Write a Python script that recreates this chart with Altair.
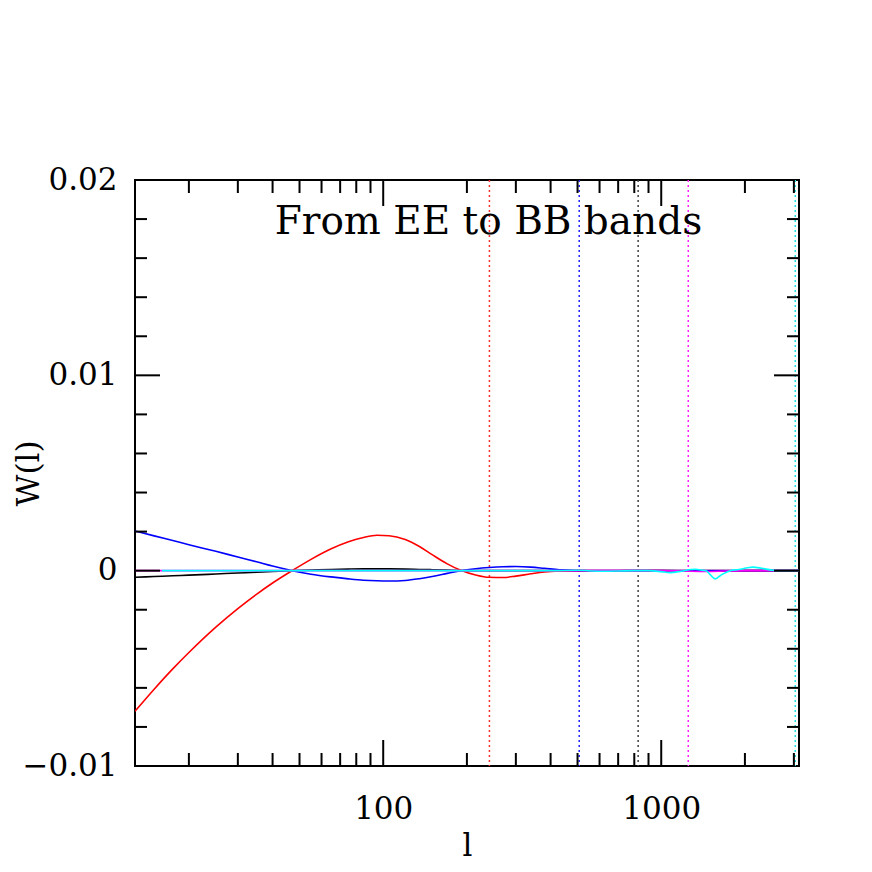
import altair as alt
import pandas as pd

# ---- data ----
l_grid = [12.8, 15, 17.5, 20, 25, 30, 35, 40, 47, 55, 65, 75, 85, 95, 105, 120,
          135, 150, 170, 190, 215, 240, 270, 300, 340, 380, 430, 500, 600, 800,
          1000, 1500, 2000, 3130]
red_w = [-0.0072, -0.00607, -0.00503, -0.00419, -0.00289, -0.00194, -0.00121, -0.00063,
         0.0, 0.00058, 0.00112, 0.00148, 0.00170, 0.00181, 0.00179, 0.00160,
         0.00124, 0.00082, 0.00035, 0.00002, -0.00022, -0.00034, -0.00035, -0.00028,
         -0.00016, -0.00007, -0.00002, 0.0, 0.0, 0.0, 0.0, 0.0, 0.0, 0.0]
blue_w = [0.00203, 0.00178, 0.00154, 0.00133, 0.00099, 0.00070, 0.00046, 0.00024,
          0.0, -0.00018, -0.00032, -0.00042, -0.00049, -0.00052, -0.00053, -0.00050,
          -0.00041, -0.00030, -0.00014, 0.0, 0.00010, 0.00016, 0.00020, 0.00021,
          0.00018, 0.00012, 0.00005, 0.0, 0.0, 0.0, 0.0, 0.0, 0.0, 0.0]
black_w = [-0.00034, -0.00030, -0.00026, -0.00023, -0.00017, -0.00012, -0.00008, -0.00004,
           0.0, 0.00003, 0.00006, 0.00008, 0.00009, 0.00009, 0.00009, 0.00008,
           0.00006, 0.00005, 0.00003, 0.00001, 0.0, 0.0, 0.0, 0.0,
           0.0, 0.0, 0.0, 0.0, -0.00002, 0.0, 0.0, -0.00003, 0.0, 0.0]
magenta_l = [12.8, 100, 500, 1000, 1200, 1450, 1700, 2000, 3130]
magenta_w = [0.0, 0.0, 0.0, 0.0, -0.00002, -0.00004, -0.00002, 0.0, 0.0]
cyan_l = [16, 100, 400, 500, 600, 700, 800, 900, 1000, 1075, 1180, 1280, 1330, 1400,
          1450, 1500, 1563, 1650, 1770, 1900, 2050, 2140, 2300, 2500, 2700, 3130]
cyan_w = [0.0, 0.0, 0.0, 0.00002, -0.00003, -0.00002, 0.0, 0.0, -0.00005, -0.00010,
          -0.00003, 0.00006, 0.00007, 0.00002, 0.0, -0.00020, -0.00042, -0.00020,
          0.0, 0.00006, 0.00015, 0.00018, 0.00012, 0.00003, 0.0, 0.0]

series_names = ["black", "red", "blue", "magenta", "cyan"]
series_colors = ["#000000", "#ff0000", "#0000ff", "#ff00ff", "#00ffff"]
band_edges = [241, 507, 826, 1251, 3034]
band_series = ["red", "blue", "black", "magenta", "cyan"]
band_colors = ["#ff3030", "#2020ff", "#404040", "#ff20ff", "#20e0e0"]

y_major = [-0.01, 0.0, 0.01, 0.02]
y_minor = [-0.008, -0.006, -0.004, -0.002, 0.002, 0.004, 0.006, 0.008,
           0.012, 0.014, 0.016, 0.018]
x_major = [100, 1000]
x_minor = [20, 30, 40, 50, 60, 70, 80, 90, 200, 300, 400, 500, 600, 700, 800, 900,
           2000, 3000]

title_text = ["From EE to BB bands"]
title_l = [239]
title_w = [0.01724]

W, H = 664, 586
FONT = "DejaVu Serif"

xs = alt.Scale(type="log", domain=[12.8, 3130], nice=False)
ys = alt.Scale(domain=[-0.01, 0.02], nice=False, zero=False)

rows = []
for name, ls, ws in [("black", l_grid, black_w), ("red", l_grid, red_w),
                     ("blue", l_grid, blue_w), ("magenta", magenta_l, magenta_w),
                     ("cyan", cyan_l, cyan_w)]:
    for a, b in zip(ls, ws):
        rows.append({"l": a, "w": b, "s": name})
df = pd.DataFrame(rows)

cscale = alt.Scale(domain=series_names, range=series_colors)

layers = []

# axes carrier (labels + titles)
axes_df = pd.DataFrame({"l": [100], "w": [0.0]})
axes = alt.Chart(axes_df).mark_point(opacity=0).encode(
    x=alt.X("l:Q", scale=xs, axis=alt.Axis(
        values=x_major, labelExpr="format(datum.value, 'd')", ticks=False, domain=False,
        grid=False, labelFont=FONT, labelFontSize=31, labelPadding=28, labelFlush=False,
        labelColor="black", title="l", titleFont=FONT, titleFontSize=31,
        titleFontWeight="normal", titleColor="black", titleY=80, titleBaseline="middle")),
    y=alt.Y("w:Q", scale=ys, axis=alt.Axis(
        values=y_major,
        labelExpr="datum.value == 0 ? '0' : format(datum.value, '.2f')",
        ticks=False, domain=False, grid=False, labelFont=FONT, labelFontSize=31,
        labelPadding=18, labelFlush=False, labelColor="black", title="W(l)",
        titleFont=FONT, titleFontSize=31, titleFontWeight="normal", titleColor="black",
        titleX=-106, titleY=H / 2, titleBaseline="middle", titleAlign="center")),
)
layers.append(axes)

# band edges (dotted verticals)
bands = alt.Chart(pd.DataFrame({"l": band_edges, "s": band_series})).mark_rule(
    strokeDash=[2, 3], strokeWidth=1.5).encode(
    x=alt.X("l:Q", scale=xs),
    color=alt.Color("s:N", scale=alt.Scale(domain=band_series, range=band_colors), legend=None),
)
layers.append(bands)

# curves, one layer per series so drawing order is controlled
for name in series_names:
    sub = df[df.s == name]
    layers.append(alt.Chart(sub).mark_line(strokeWidth=1.6, interpolate="monotone", clip=True).encode(
        x=alt.X("l:Q", scale=xs),
        y=alt.Y("w:Q", scale=ys),
        color=alt.Color("s:N", scale=cscale, legend=None),
    ))

# ticks
def yticks(vals, length):
    d = pd.DataFrame({"w": vals})
    left = alt.Chart(d).mark_rule(color="black", strokeWidth=2).encode(
        y=alt.Y("w:Q", scale=ys), x=alt.value(0), x2=alt.value(length))
    right = alt.Chart(d).mark_rule(color="black", strokeWidth=2).encode(
        y=alt.Y("w:Q", scale=ys), x=alt.value(W - length), x2=alt.value(W))
    return [left, right]

def xticks(vals, length):
    d = pd.DataFrame({"l": vals})
    bot = alt.Chart(d).mark_rule(color="black", strokeWidth=2).encode(
        x=alt.X("l:Q", scale=xs), y=alt.value(H), y2=alt.value(H - length))
    top = alt.Chart(d).mark_rule(color="black", strokeWidth=2).encode(
        x=alt.X("l:Q", scale=xs), y=alt.value(0), y2=alt.value(length))
    return [bot, top]

layers += yticks(y_minor, 12) + yticks(y_major[1:-1], 25)
layers += xticks(x_minor, 13) + xticks(x_major, 26)

# in-plot title
ann = alt.Chart(pd.DataFrame({"l": title_l, "w": title_w, "t": title_text})).mark_text(
    font=FONT, fontSize=39, color="black", align="center", baseline="alphabetic").encode(
    x=alt.X("l:Q", scale=xs), y=alt.Y("w:Q", scale=ys), text="t:N")
layers.append(ann)

chart = alt.layer(*layers).resolve_scale(color="independent").properties(
    width=W, height=H,
    autosize=alt.AutoSizeParams(type="none"),
    padding={"left": 127, "top": 172, "right": 65, "bottom": 98},
    background="white",
).configure_view(stroke="black", strokeWidth=2)

chart.save("out.html", embed_options={"renderer": "svg", "actions": False})
